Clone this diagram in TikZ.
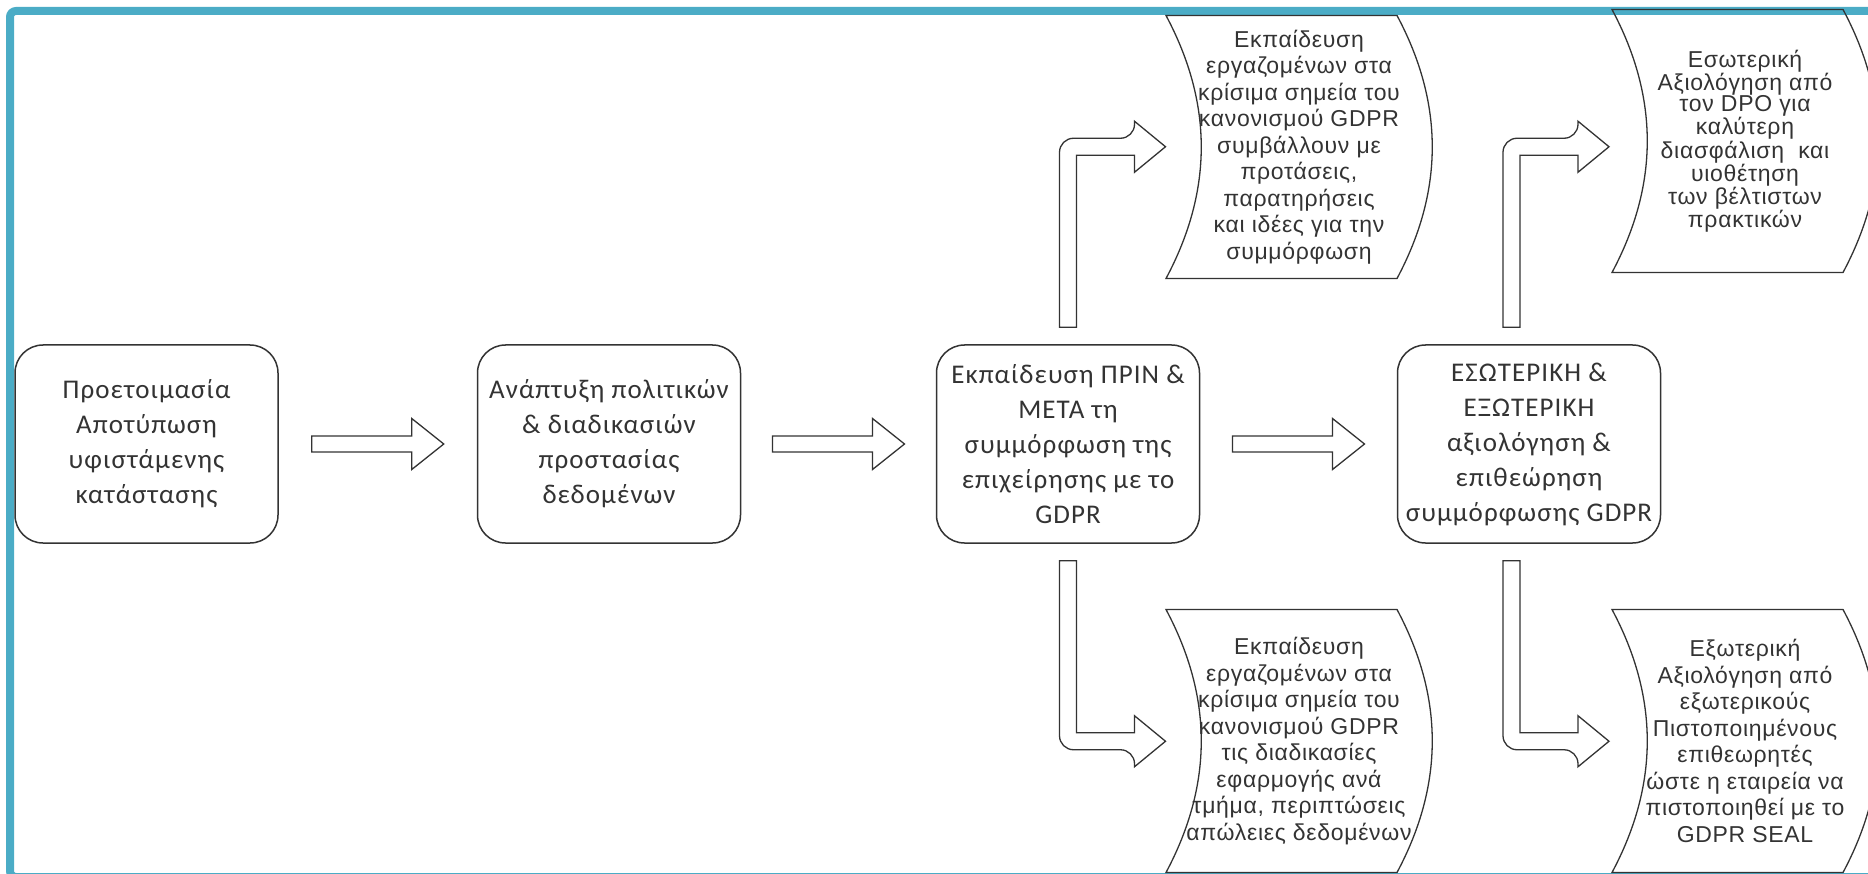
\documentclass[tikz,border=0pt]{standalone}
\usepackage{fontspec}
\usepackage{xcolor}
\usetikzlibrary{calc}

\newfontfamily\boxfont[LetterSpace=4]{Carlito}
\newfontfamily\wavefont[LetterSpace=3]{Liberation Sans}
\definecolor{frameblue}{HTML}{4BACC6}
\definecolor{ink}{HTML}{333333}

\tikzset{
	stepbox/.style={draw=ink, line width=1.5pt, rounded corners=28pt, minimum width=263pt, minimum height=198pt, align=center, text=ink, font=\boxfont\fontsize{27}{35}\selectfont},
	wavetext/.style={align=center, text=ink, font=\wavefont\fontsize{23}{26.5}\selectfont},
	waveline/.style={draw=ink, line width=1.3pt},
	arrowline/.style={draw=ink, line width=1.3pt, fill=white, line join=miter},
	outerframe/.style={draw=frameblue, line width=8pt, rounded corners=6pt}
}

\newcommand{\flowarrow}[2]{\draw[arrowline] ($(#1.east)!0.5!(#2.west)$) ++(-66,-8) -- ++(100,0) -- ++(0,-17.5) -- ++(32,25.5) -- ++(-32,25.5) -- ++(0,-17.5) -- ++(-100,0) -- cycle;}
\newcommand{\bentarrow}[2]{\draw[arrowline] (#1) ++(-8.5,0) [rounded corners=14pt] -- ++(0,{-189*(#2)}) -- ++(75,0) [sharp corners] -- ++(0,{-17*(#2)}) -- ++(31,{25.5*(#2)}) -- ++(-31,{25.5*(#2)}) -- ++(0,{-17*(#2)}) -- ++(-58,0) -- ++(0,{172*(#2)}) -- cycle;}
\newcommand{\wavebox}[1]{\draw[waveline] ($(#1)+(-133,-131.5)$) .. controls +(47,88) and +(47,-88) .. ($(#1)+(-133,131.5)$) -- ($(#1)+(98,131.5)$) .. controls +(47,-88) and +(47,88) .. ($(#1)+(98,-131.5)$) -- cycle;}

\begin{document}
\begin{tikzpicture}[x=1pt, y=-1pt]
	\useasboundingbox (0,0) rectangle (1868,874);
	\draw[outerframe] (10,11) rectangle (1880,877);

	\node[stepbox] (A) at (146.5,444) {Προετοιμασία\\Αποτύπωση\\υφιστάμενης\\κατάστασης};
	\node[stepbox] (B) at (609,444) {Ανάπτυξη πολιτικών\\\& διαδικασιών\\προστασίας\\δεδομένων};
	\node[stepbox] (C) at (1068,444) {Εκπαίδευση ΠΡΙΝ \&\\ΜΕΤΑ τη\\συμμόρφωση της\\επιχείρησης με το\\GDPR};
	\node[stepbox] (D) at (1529,444) {ΕΣΩΤΕΡΙΚΗ \&\\ΕΞΩΤΕΡΙΚΗ\\αξιολόγηση \&\\επιθεώρηση\\συμμόρφωσης GDPR};

	\node[wavetext] (E) at (1299,147) {Εκπαίδευση\\εργαζομένων στα\\κρίσιμα σημεία του\\κανονισμού GDPR\\συμβάλλουν με\\προτάσεις,\\παρατηρήσεις\\και ιδέες για την\\συμμόρφωση};
	\node[wavetext, font=\wavefont\fontsize{23}{21.6}\selectfont] (F) at (1745,141) {Εσωτερική\\Αξιολόγηση από\\τον DPO για\\καλύτερη\\διασφάλιση\ \ και\\υιοθέτηση\\των βέλτιστων\\πρακτικών};
	\node[wavetext] (G) at (1299,741) {Εκπαίδευση\\εργαζομένων στα\\κρίσιμα σημεία του\\κανονισμού GDPR\\τις διαδικασίες\\εφαρμογής ανά\\τμήμα, περιπτώσεις\\απώλειες δεδομένων};
	\node[wavetext] (H) at (1745,741) {Εξωτερική\\Αξιολόγηση από\\εξωτερικούς\\Πιστοποιημένους\\επιθεωρητές\\ώστε η εταιρεία να\\πιστοποιηθεί με το\\GDPR SEAL};

	\wavebox{E}
	\wavebox{F}
	\wavebox{G}
	\wavebox{H}

	\flowarrow{A}{B}
	\flowarrow{B}{C}
	\flowarrow{C}{D}

	\bentarrow{$(C.north)+(0,-17)$}{1}
	\bentarrow{$(C.south)+(0,17)$}{-1}
	\bentarrow{$(D.north)+(-17.5,-17)$}{1}
	\bentarrow{$(D.south)+(-17.5,17)$}{-1}
\end{tikzpicture}
\end{document}
